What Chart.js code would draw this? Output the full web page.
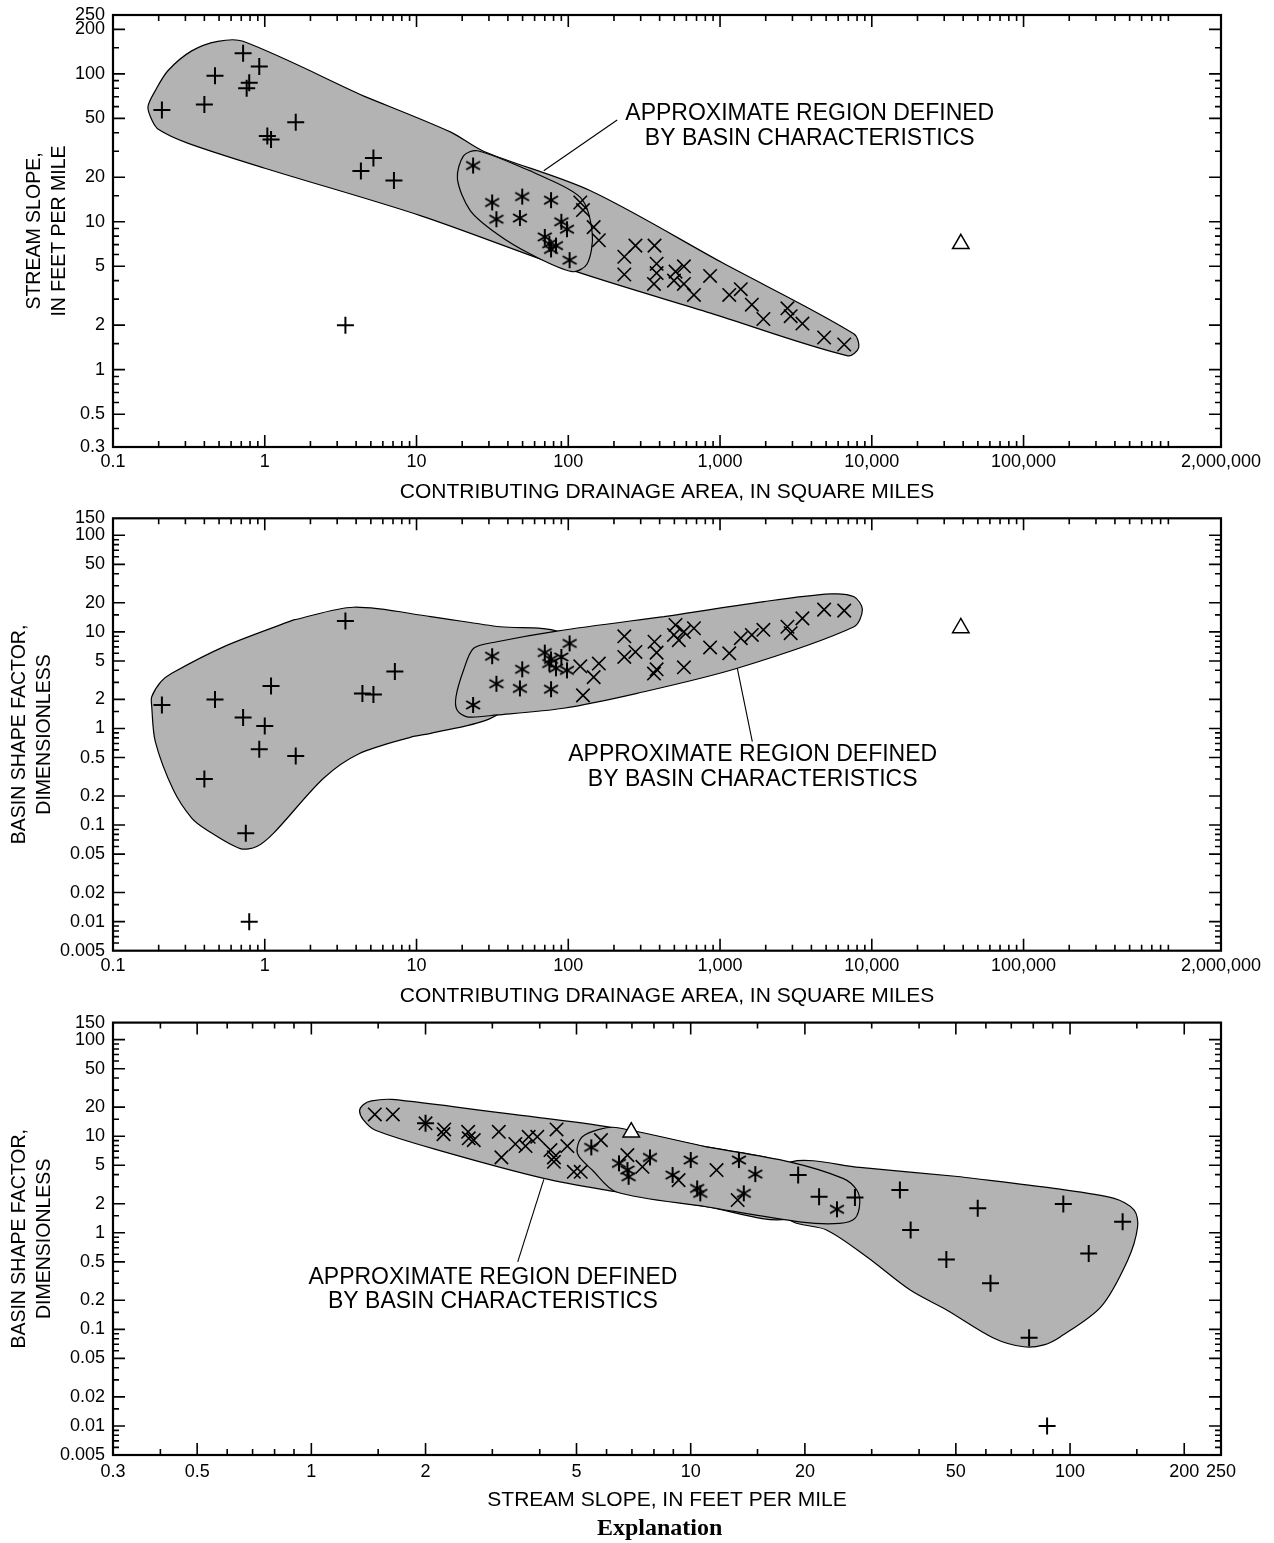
<!DOCTYPE html>
<html>
<head>
<meta charset="utf-8">
<script src="https://cdn.jsdelivr.net/npm/chart.js@4.4.1/dist/chart.umd.min.js"></script>
<style>
  body { margin: 0; background: #fff; width: 1274px; height: 1543px; position: relative; overflow: hidden; }
  canvas { position: absolute; left: 0; }
  #c1 { top: 0; }
  #c2 { top: 505px; }
  #c3 { top: 1010px; }
  #expl { position: absolute; top: 1513px; left: 597px; font: bold 24px "Liberation Serif", "DejaVu Serif", serif; line-height: 28px; }
</style>
</head>
<body>
<canvas id="c1" width="1274" height="505"></canvas>
<canvas id="c2" width="1274" height="505"></canvas>
<canvas id="c3" width="1274" height="510"></canvas>
<div id="expl">Explanation</div>
<script>
const FONT = '"Liberation Sans", Arial, Helvetica, sans-serif';

// axis labels
const areaLabels = [0.1, 1, 10, 100, 1000, 10000, 100000, 2000000];
const slopeLabels = [0.3, 0.5, 1, 2, 5, 10, 20, 50, 100, 200, 250];
const shapeLabels = [0.005, 0.01, 0.02, 0.05, 0.1, 0.2, 0.5, 1, 2, 5, 10, 20, 50, 100, 150];

// chart 1: drainage area vs stream slope
const c1Plus = [[0.21,57],[0.4,62],[0.47,97],[0.72,138],[0.92,112],[0.76,80],[0.79,87],[1.04,38],[1.1,36],[1.6,47],[4.3,22],[5.2,27],[7.1,19],[3.4,2.0]];
const c1Star = [[23.6,24],[31.5,13.5],[33.6,10.4],[49.7,14.8],[48,10.6],[77,14],[90,10],[98,8.9],[70,7.9],[75,7.1],[77,6.5],[83,6.9],[102,5.5]];
const c1Cross = [[120,13.5],[125,12],[147,9.2],[159,7.5],[234,5.8],[277,6.9],[234,4.4],[370,6.9],[382,5.2],[382,4.5],[367,3.8],[509,4.6],[578,5.0],[497,4.0],[578,3.8],[673,3.2],[860,4.3],[1150,3.2],[1370,3.5],[1620,2.75],[1930,2.2],[2780,2.6],[2920,2.3],[3490,2.05],[4850,1.65],[6580,1.48]];
const c1Tri = [[38600,7.1]];
const c1Zone = [[4.46,71],[16.7,40.5],[27.6,30],[140,16.2],[1030,5.3],[7600,1.75],[8200,1.41],[6960,1.24],[867,2.41],[108,4.67],[10.6,11],[1,23],[0.31,34],[0.2,42],[0.18,49],[0.17,60],[0.19,77],[0.23,105],[0.33,143],[0.49,166],[0.72,166],[4.46,71]];
const c1Oval = [[56.3,22.1],[120,14.6],[144,8.26],[133,5.18],[106,4.6],[56.3,6.05],[34,8.26],[22.6,11.9],[18.6,19.5],[20.4,27.9],[25.2,30.2],[56.3,22.1]];

// chart 2: drainage area vs basin shape factor
const c2Plus = [[0.21,1.75],[0.47,2.0],[0.72,1.3],[1.0,1.06],[1.1,2.75],[0.92,0.61],[1.6,0.52],[0.4,0.3],[0.75,0.082],[0.79,0.01],[3.4,13],[4.4,2.3],[5.2,2.25],[7.2,3.9]];
const c2Star = [[23.6,1.75],[31.5,5.6],[33.6,2.9],[49.7,4.1],[48,2.6],[70,6.1],[75,4.7],[77,2.55],[83,4.2],[90,5.5],[98,4.0],[102,7.6],[77,5.2]];
const c2Cross = [[120,4.4],[125,2.2],[147,3.4],[159,4.7],[234,9.0],[234,5.5],[277,6.2],[370,7.9],[382,6.1],[382,4.1],[367,3.7],[509,11.8],[497,9.3],[535,8.2],[578,10],[578,4.3],[673,10.9],[860,6.9],[1150,6.0],[1370,8.6],[1620,9.3],[1930,10.5],[2780,11.3],[2920,9.7],[3490,13.8],[4850,17],[6580,16.6]];
const c2Tri = [[38600,11]];
const c2Zone = [[1.55,13.3],[3.85,18],[12.4,14.4],[35.7,11.3],[84,10.2],[120,6],[60,2.5],[30,1.25],[12.4,0.89],[9.1,0.81],[4.15,0.545],[2.44,0.305],[1.14,0.082],[0.886,0.06],[0.69,0.057],[0.415,0.089],[0.33,0.118],[0.25,0.23],[0.19,0.73],[0.18,1.68],[0.18,2.13],[0.207,3.05],[0.244,3.73],[0.535,7.0],[1.55,13.3]];
const c2Band = [[427,14.4],[1950,20.6],[5370,24.7],[7640,23.1],[8670,17.1],[7640,11.3],[1300,4.2],[284,2.31],[93,1.62],[33.9,1.38],[21.5,1.32],[18.5,1.55],[18.2,2.13],[20.4,4.0],[23.8,6.76],[33.9,7.9],[84,10.2],[427,14.4]];

// chart 3: stream slope vs basin shape factor
const c3Plus = [[19.2,3.96],[21.8,2.36],[27.1,2.32],[35.6,2.77],[38,1.07],[57.1,1.79],[47.2,0.53],[61.7,0.30],[78,0.082],[96,1.98],[112,0.61],[137.6,1.3],[87,0.01],[2.0,13.6]];
const c3Star = [[5.47,7.66],[6.47,5.23],[6.81,4.46],[6.86,3.8],[7.81,6.03],[8.96,3.96],[10.0,5.66],[10.4,2.88],[10.6,2.56],[13.4,5.66],[14.8,4.05],[13.8,2.56],[24.3,1.75]];
const c3Cross = [[1.47,16.8],[1.64,16.8],[2.0,13.6],[2.24,11.75],[2.23,10.5],[2.59,11.1],[2.6,9.5],[2.68,9.1],[3.12,11.1],[3.17,6.03],[3.45,8.3],[3.67,7.9],[3.74,9.86],[3.94,9.86],[4.43,11.75],[4.27,7.18],[4.73,7.9],[4.36,6.03],[4.36,5.43],[4.92,4.28],[5.13,4.28],[5.8,9.1],[6.81,6.37],[7.46,4.82],[9.29,3.51],[11.7,4.46],[13.3,2.18]];
const c3Tri = [[6.97,11]];
const c3Zone = [[51.4,3.8],[90.8,2.88],[130.7,2.27],[147.6,1.72],[150.7,1.15],[141.9,0.52],[120.6,0.171],[94.4,0.084],[85.3,0.069],[75.5,0.066],[63,0.081],[47.4,0.158],[37.9,0.255],[29.1,0.565],[22.8,1.07],[18.6,1.3],[15,2.5],[18.4,5.43],[27.9,4.75],[51.4,3.8]];
const c3Band = [[3.25,17.2],[6.22,12.3],[11,7.74],[17,5.6],[20,3.5],[18,1.4],[11,1.86],[6.35,2.66],[4.1,3.66],[2.16,7.18],[1.47,11.6],[1.37,14.8],[1.34,18.3],[1.37,21.2],[1.44,23.2],[1.63,24],[3.25,17.2]];
const c3Oval = [[11,7.74],[18.2,5.43],[25.2,3.66],[27.4,2.77],[27.9,2.01],[27.1,1.41],[24.7,1.25],[19.6,1.29],[11,1.86],[6.35,2.66],[5.5,4.46],[5.08,6.13],[5.02,7.47],[5.18,9.86],[5.74,11.75],[6.35,12.3],[11,7.74]];

const NOTE = ['APPROXIMATE REGION DEFINED', 'BY BASIN CHARACTERISTICS'];

function fmt(v) { return v >= 1000 ? v.toLocaleString('en-US') : String(v); }
function pts(a) { return a.map(([x, y]) => ({ x, y })); }
function minors(min, max, mant) {
  const out = [];
  for (let e = Math.floor(Math.log10(min)); e <= Math.ceil(Math.log10(max)); e++) {
    mant.forEach(m => { const v = m * Math.pow(10, e); if (v > min * 1.001 && v < max * 0.999) out.push(v); });
  }
  return out;
}
function inner(labels, min, max) { return labels.filter(v => v > min * 1.001 && v < max * 0.999); }

function asterisk(r, lw) {
  const c = document.createElement('canvas');
  const s = Math.ceil(2 * r + lw + 2);
  c.width = c.height = s;
  const g = c.getContext('2d');
  g.strokeStyle = '#000'; g.lineWidth = lw;
  g.translate(s / 2, s / 2);
  [90, 30, -30].forEach(a => {
    const t = a * Math.PI / 180;
    g.beginPath(); g.moveTo(-r * Math.cos(t), -r * Math.sin(t)); g.lineTo(r * Math.cos(t), r * Math.sin(t)); g.stroke();
  });
  return c;
}
const STAR = asterisk(8, 2);

function zone(data, order) {
  return { type: 'scatter', data: pts(data), showLine: true, fill: 'shape', backgroundColor: '#b3b3b3',
           borderColor: '#000', borderWidth: 1.2, pointRadius: 0, tension: 0.3, order };
}
function marks(plus, star, cross, tri) {
  return [
    { type: 'scatter', data: pts(plus), pointStyle: 'cross', pointRadius: 8.5, borderColor: '#000', pointBorderWidth: 2, order: 0 },
    { type: 'scatter', data: pts(cross), pointStyle: 'crossRot', pointRadius: 9.5, borderColor: '#000', pointBorderWidth: 1.6, order: 0 },
    { type: 'scatter', data: pts(star), pointStyle: STAR, pointRadius: 8, borderColor: '#000', order: 0 },
    { type: 'scatter', data: pts(tri), pointStyle: 'triangle', pointRadius: 9.5, borderColor: '#000', backgroundColor: '#fff', pointBorderWidth: 1.5, order: 0 }
  ];
}

function xAxis(min, max, labels, title, h, tickPad, titlePad) {
  return {
    type: 'logarithmic', position: 'bottom', min, max,
    grid: { display: false, drawTicks: false }, border: { display: false },
    afterBuildTicks: s => { s.ticks = labels.map(v => ({ value: v })); },
    afterFit: s => { s.height = h; s.paddingLeft = 0; s.paddingRight = 0; },
    ticks: { autoSkip: false, maxRotation: 0, minRotation: 0, padding: tickPad, color: '#000',
             font: { family: FONT, size: 18, lineHeight: 1 }, callback: v => fmt(v) },
    title: { display: true, text: title, color: '#000', font: { family: FONT, size: 21, lineHeight: 1.2 },
             padding: { top: 0, bottom: titlePad } }
  };
}
function yAxis(min, max, labels, title, w, titlePad) {
  return {
    type: 'logarithmic', position: 'left', min, max,
    grid: { display: false, drawTicks: false }, border: { display: false },
    afterBuildTicks: s => { s.ticks = labels.map(v => ({ value: v })); },
    afterFit: s => { s.width = w; s.paddingTop = 0; s.paddingBottom = 0; },
    ticks: { autoSkip: false, padding: 8, color: '#000', font: { family: FONT, size: 18, lineHeight: 1 }, callback: v => fmt(v) },
    title: { display: true, text: title, color: '#000', font: { family: FONT, size: 19.5, lineHeight: '25px' },
             padding: { top: titlePad, bottom: 0 } }
  };
}

function frame(ticks, note) {
  return {
    id: 'frame',
    afterDatasetsDraw(chart) {
      const { ctx, chartArea: a, scales: { x, y } } = chart;
      ctx.save();
      ctx.strokeStyle = '#000';
      ctx.lineWidth = 1.6;
      ctx.beginPath();
      const tx = (vals, len) => vals.forEach(v => {
        const p = x.getPixelForValue(v);
        ctx.moveTo(p, a.bottom); ctx.lineTo(p, a.bottom - len);
        ctx.moveTo(p, a.top); ctx.lineTo(p, a.top + len);
      });
      const ty = (vals, len) => vals.forEach(v => {
        const p = y.getPixelForValue(v);
        ctx.moveTo(a.left, p); ctx.lineTo(a.left + len, p);
        ctx.moveTo(a.right, p); ctx.lineTo(a.right - len, p);
      });
      tx(ticks.xMajor, 12); tx(ticks.xMinor, 6);
      ty(ticks.yMajor, 12); ty(ticks.yMinor, 6);
      ctx.stroke();
      ctx.lineWidth = 2.2;
      ctx.strokeRect(a.left, a.top, a.right - a.left, a.bottom - a.top);
      // leader line and label
      ctx.lineWidth = 1.1;
      ctx.beginPath();
      ctx.moveTo(x.getPixelForValue(note.from[0]), y.getPixelForValue(note.from[1]));
      ctx.lineTo(x.getPixelForValue(note.to[0]), y.getPixelForValue(note.to[1]));
      ctx.stroke();
      ctx.fillStyle = '#000';
      ctx.font = '23px ' + FONT;
      ctx.textAlign = 'center';
      ctx.textBaseline = 'middle';
      NOTE.forEach((t, i) => ctx.fillText(t, x.getPixelForValue(note.x), y.getPixelForValue(note.y[i])));
      ctx.restore();
    }
  };
}

function build(id, spec) {
  const xMin = spec.x.min, xMax = spec.x.max, yMin = spec.y.min, yMax = spec.y.max;
  const ticks = {
    xMajor: inner(spec.x.labels, xMin, xMax), xMinor: minors(xMin, xMax, spec.x.mant),
    yMajor: inner(spec.y.labels, yMin, yMax), yMinor: minors(yMin, yMax, [1.5, 3, 4, 6, 7, 8, 9])
  };
  new Chart(document.getElementById(id), {
    type: 'scatter',
    data: { datasets: [...marks(...spec.marks), ...spec.zones] },
    options: {
      responsive: false, animation: false, devicePixelRatio: 1, events: [],
      layout: { padding: spec.pad },
      plugins: { legend: { display: false }, tooltip: { enabled: false } },
      scales: {
        x: xAxis(xMin, xMax, spec.x.labels, spec.x.title, spec.x.h, spec.x.tickPad, spec.x.titlePad),
        y: yAxis(yMin, yMax, spec.y.labels, spec.y.title, spec.y.w, spec.y.titlePad)
      }
    },
    plugins: [frame(ticks, spec.note)]
  });
}

const AREA_TITLE = 'CONTRIBUTING DRAINAGE AREA, IN SQUARE MILES';
const SHAPE_TITLE = ['BASIN SHAPE FACTOR,', 'DIMENSIONLESS'];

build('c1', {
  pad: { left: 15, right: 53, top: 15, bottom: 0 },
  x: { min: 0.1, max: 2000000, labels: areaLabels, mant: [2, 3, 4, 5, 6, 7, 8, 9], title: AREA_TITLE, h: 58, tickPad: 6, titlePad: 0.4 },
  y: { min: 0.3, max: 250, labels: slopeLabels, title: ['STREAM SLOPE,', 'IN FEET PER MILE'], w: 98, titlePad: 7.5 },
  marks: [c1Plus, c1Star, c1Cross, c1Tri],
  zones: [zone(c1Zone, 2), zone(c1Oval, 1)],
  note: { from: [210, 48.7], to: [68.9, 22.1], x: 3900, y: [53.7, 36.4] }
});

build('c2', {
  pad: { left: 0, right: 53, top: 13.3, bottom: 0 },
  x: { min: 0.1, max: 2000000, labels: areaLabels, mant: [2, 3, 4, 5, 6, 7, 8, 9], title: AREA_TITLE, h: 59.3, tickPad: 6.3, titlePad: 1.4 },
  y: { min: 0.005, max: 150, labels: shapeLabels, title: SHAPE_TITLE, w: 113, titlePad: 7.5 },
  marks: [c2Plus, c2Star, c2Cross, c2Tri],
  zones: [zone(c2Zone, 2), zone(c2Band, 1)],
  note: { from: [1300, 4.2], to: [1632, 0.73], x: 1641, y: [0.532, 0.293] }
});

build('c3', {
  pad: { left: 0, right: 53, top: 12.6, bottom: 0 },
  x: { min: 0.3, max: 250, labels: slopeLabels, mant: [1.5, 3, 4, 6, 7, 8, 9], title: 'STREAM SLOPE, IN FEET PER MILE', h: 65, tickPad: 8, titlePad: 7.4 },
  y: { min: 0.005, max: 150, labels: shapeLabels, title: SHAPE_TITLE, w: 113, titlePad: 7.5 },
  marks: [c3Plus, c3Star, c3Cross, c3Tri],
  zones: [zone(c3Zone, 3), zone(c3Band, 2), zone(c3Oval, 1)],
  note: { from: [4.1, 3.57], to: [3.5, 0.5], x: 3.01, y: [0.34, 0.192] }
});
</script>
</body>
</html>
